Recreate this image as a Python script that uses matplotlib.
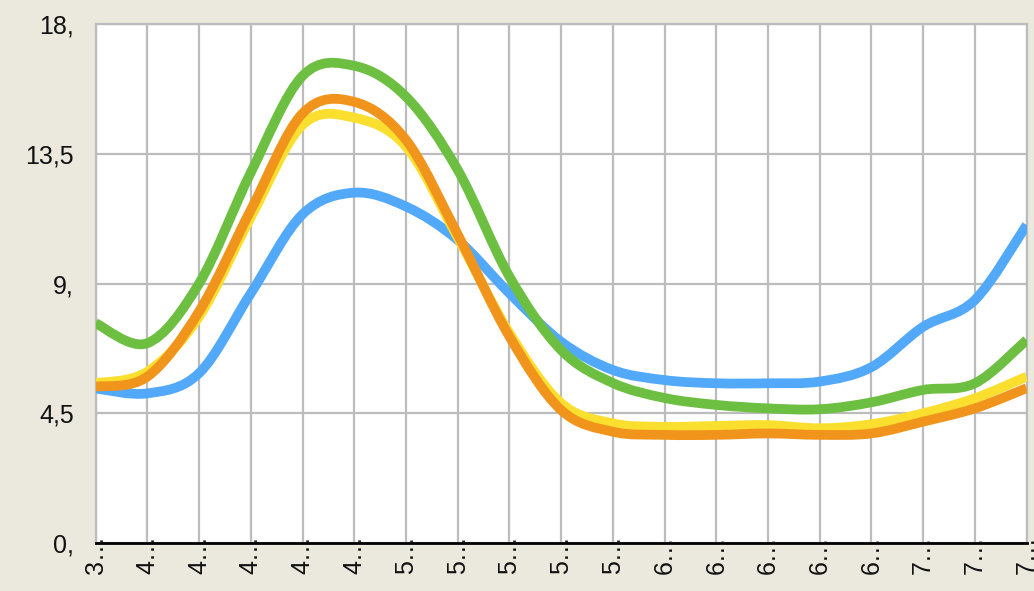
import numpy as np
import matplotlib.pyplot as plt
from matplotlib.path import Path
from matplotlib.patches import PathPatch

plt.rcParams['font.family'] = ['Liberation Sans', 'DejaVu Sans']

# Category labels along the x axis (truncated times)
x_labels = ["3…", "4…", "4…", "4…", "4…", "4…", "5…", "5…", "5…", "5…",
            "5…", "6…", "6…", "6…", "6…", "6…", "7…", "7…", "7…"]

# Series values, one per category
blue = [5.36, 5.19, 5.89, 8.66, 11.4, 12.15, 11.67, 10.51, 8.66, 6.98,
        6.0, 5.65, 5.54, 5.54, 5.6, 6.1, 7.5, 8.43, 11.03]
yellow = [5.54, 5.94, 7.85, 11.3, 14.5, 14.75, 13.75, 10.6, 7.28, 4.85,
          4.15, 4.03, 4.06, 4.09, 3.98, 4.12, 4.5, 5.02, 5.77]
orange = [5.42, 5.77, 8.03, 11.55, 14.9, 15.3, 13.98, 10.7, 7.16, 4.61,
          3.86, 3.75, 3.75, 3.8, 3.75, 3.8, 4.21, 4.67, 5.37]
green = [7.62, 6.93, 9.0, 12.85, 16.2, 16.55, 15.48, 12.94, 9.24, 6.69,
         5.55, 5.03, 4.79, 4.67, 4.64, 4.88, 5.31, 5.54, 7.04]

y_ticks = [0, 4.5, 9, 13.5, 18]
y_tick_labels = ["0,", "4,5", "9,", "13,5", "18,"]


def smooth_path(xs, ys):
    # cubic Bezier segments through every point (Catmull-Rom handles)
    pts = np.column_stack([xs, ys]).astype(float)
    n = len(pts)
    verts = [pts[0]]
    codes = [Path.MOVETO]
    for i in range(n - 1):
        p0 = pts[i - 1] if i > 0 else pts[i]
        p1 = pts[i]
        p2 = pts[i + 1]
        p3 = pts[i + 2] if i + 2 < n else pts[i + 1]
        c1 = p1 + (p2 - p0) / 6
        c2 = p2 - (p3 - p1) / 6
        verts += [c1, c2, p2]
        codes += [Path.CURVE4] * 3
    return Path(verts, codes)


fig = plt.figure(figsize=(10.34, 5.91), dpi=100)
fig.patch.set_facecolor('#ebe9dd')
ax = fig.add_axes([0.0925, 0.0812, 0.9004, 0.8782])
ax.set_facecolor('white')

x = np.arange(len(x_labels))
for vals, col in [(blue, '#52a9f9'), (yellow, '#fadf2e'),
                  (orange, '#f0941c'), (green, '#6cbf40')]:
    patch = PathPatch(smooth_path(x, vals), facecolor='none',
                      edgecolor=col, lw=7, capstyle='butt', joinstyle='round', zorder=3)
    ax.add_patch(patch)

ax.set_xlim(0, len(x_labels) - 1)
ax.set_ylim(0, 18)
ax.set_xticks(x)
ax.set_xticklabels(x_labels, rotation=90, fontsize=18, color='#111111')
ax.set_yticks(y_ticks)
ax.set_yticklabels(y_tick_labels, fontsize=18, color='#111111')
ax.tick_params(axis='x', length=0, pad=-6)
ax.tick_params(axis='y', length=0, pad=15.5)
for lbl in ax.get_xticklabels():
    lbl.set_va('top')

ax.grid(True, color='#bcbcbc', lw=1.6, zorder=1)
ax.set_axisbelow(True)
for side in ['left', 'top', 'right']:
    ax.spines[side].set_color('#bcbcbc')
    ax.spines[side].set_linewidth(1.6)
ax.spines['bottom'].set_color('#000000')
ax.spines['bottom'].set_linewidth(2.0)
ax.spines['bottom'].set_zorder(5)

fig.savefig('out.png', dpi=100, facecolor=fig.get_facecolor())
